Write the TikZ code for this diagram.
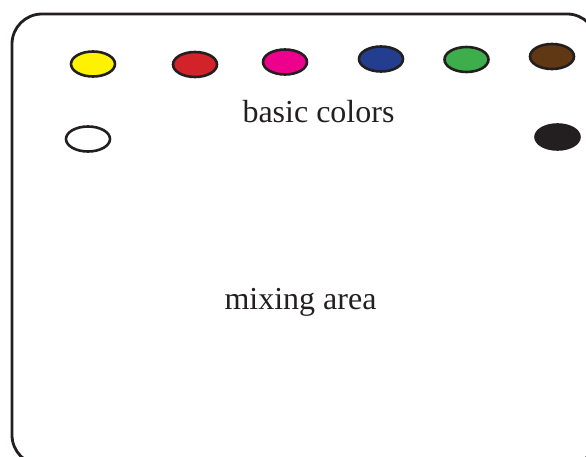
\documentclass[tikz,border=0pt]{standalone}
\usepackage{fontspec}
\setmainfont{Liberation Serif}
\usetikzlibrary{shapes.geometric}
\definecolor{ink}{HTML}{231F20}
\definecolor{cyellow}{HTML}{FFF200}
\definecolor{cred}{HTML}{D2232A}
\definecolor{cmagenta}{HTML}{EC008C}
\definecolor{cblue}{HTML}{233E8F}
\definecolor{cgreen}{HTML}{3DAE4B}
\definecolor{cbrown}{HTML}{603813}
\tikzset{
  paint/.style={ellipse, draw=ink, line width=2.6pt, minimum width=44pt, minimum height=25pt, inner sep=0pt},
  lbl/.style={font=\fontsize{32}{38}\selectfont, text=ink, inner sep=0pt, anchor=base}
}
\begin{document}
\begin{tikzpicture}[x=1pt,y=-1pt]
\useasboundingbox (0,0) rectangle (586,457);
\clip (0,0) rectangle (586,457);
\draw[ink, line width=2.8pt, rounded corners=30pt] (12,14) rectangle (597,465);
\node[paint, fill=cyellow] (yellow) at (93,64) {};
\node[paint, fill=cred] (red) at (195,64.5) {};
\node[paint, fill=cmagenta] (magenta) at (285,62) {};
\node[paint, fill=cblue] (blue) at (381,59) {};
\node[paint, fill=cgreen] (green) at (466.5,59.5) {};
\node[paint, fill=cbrown] (brown) at (552,56.5) {};
\node[paint, fill=white] (white) at (88,139) {};
\node[paint, fill=ink] (black) at (557.5,137) {};
\node[lbl] (basic) at (318.5,122.5) {basic colors};
\node[lbl] (mixing) at (300.5,309) {mixing area};
\end{tikzpicture}
\end{document}
